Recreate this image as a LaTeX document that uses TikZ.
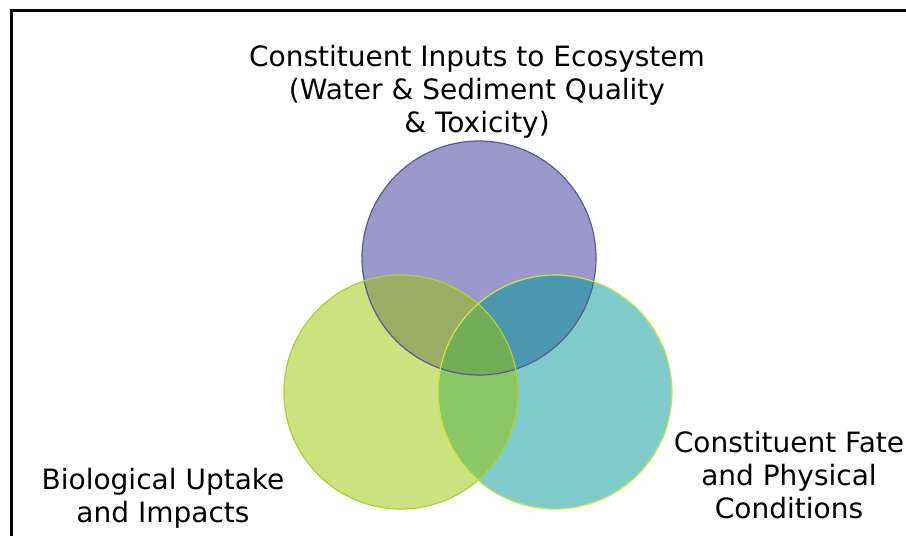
\documentclass[tikz,border=0pt]{standalone}
\usepackage{fontspec}
\setmainfont{DejaVu Sans}
\usepackage{xcolor}
\usepackage{tikz}

\definecolor{inputfill}{RGB}{154,151,202}
\definecolor{inputline}{RGB}{92,88,152}
\definecolor{biofill}{RGB}{153,197,0}
\definecolor{bioline}{RGB}{176,208,52}
\definecolor{fatefill}{RGB}{0,151,151}
\definecolor{fateline}{RGB}{206,228,70}

\begin{document}
\begin{tikzpicture}[x=1pt,y=-1pt,
        label/.style={inner sep=0pt, anchor=north, align=center,
            font=\fontsize{28}{33}\selectfont}]
            \useasboundingbox (0,0) rectangle (906,536);
            % frame
            \draw[line width=3pt] (11.5,536) -- (11.5,10.5) -- (906,10.5);
            % the three sets, fills first (green sits on top of teal)
            \fill[inputfill] (479,258) circle (117);
            \fill[fatefill, opacity=0.5] (555,392) circle (117);
            \fill[biofill, opacity=0.5] (401,392) circle (117);
            % then the outlines
            \draw[inputline, line width=1.2pt] (479,258) circle (117);
            \draw[bioline, line width=1.2pt] (401,392) circle (117);
            \draw[fateline, line width=1.2pt] (555,392) circle (117);
            \node[label] (inputs) at (477,45) {Constituent Inputs to Ecosystem\\(Water \& Sediment Quality\\\& Toxicity)};
            \node[label] (bio) at (163,468) {Biological Uptake\\and Impacts};
            \node[label] (fate) at (789,431) {Constituent Fate\\and Physical\\Conditions};
        \end{tikzpicture}
\end{document}
